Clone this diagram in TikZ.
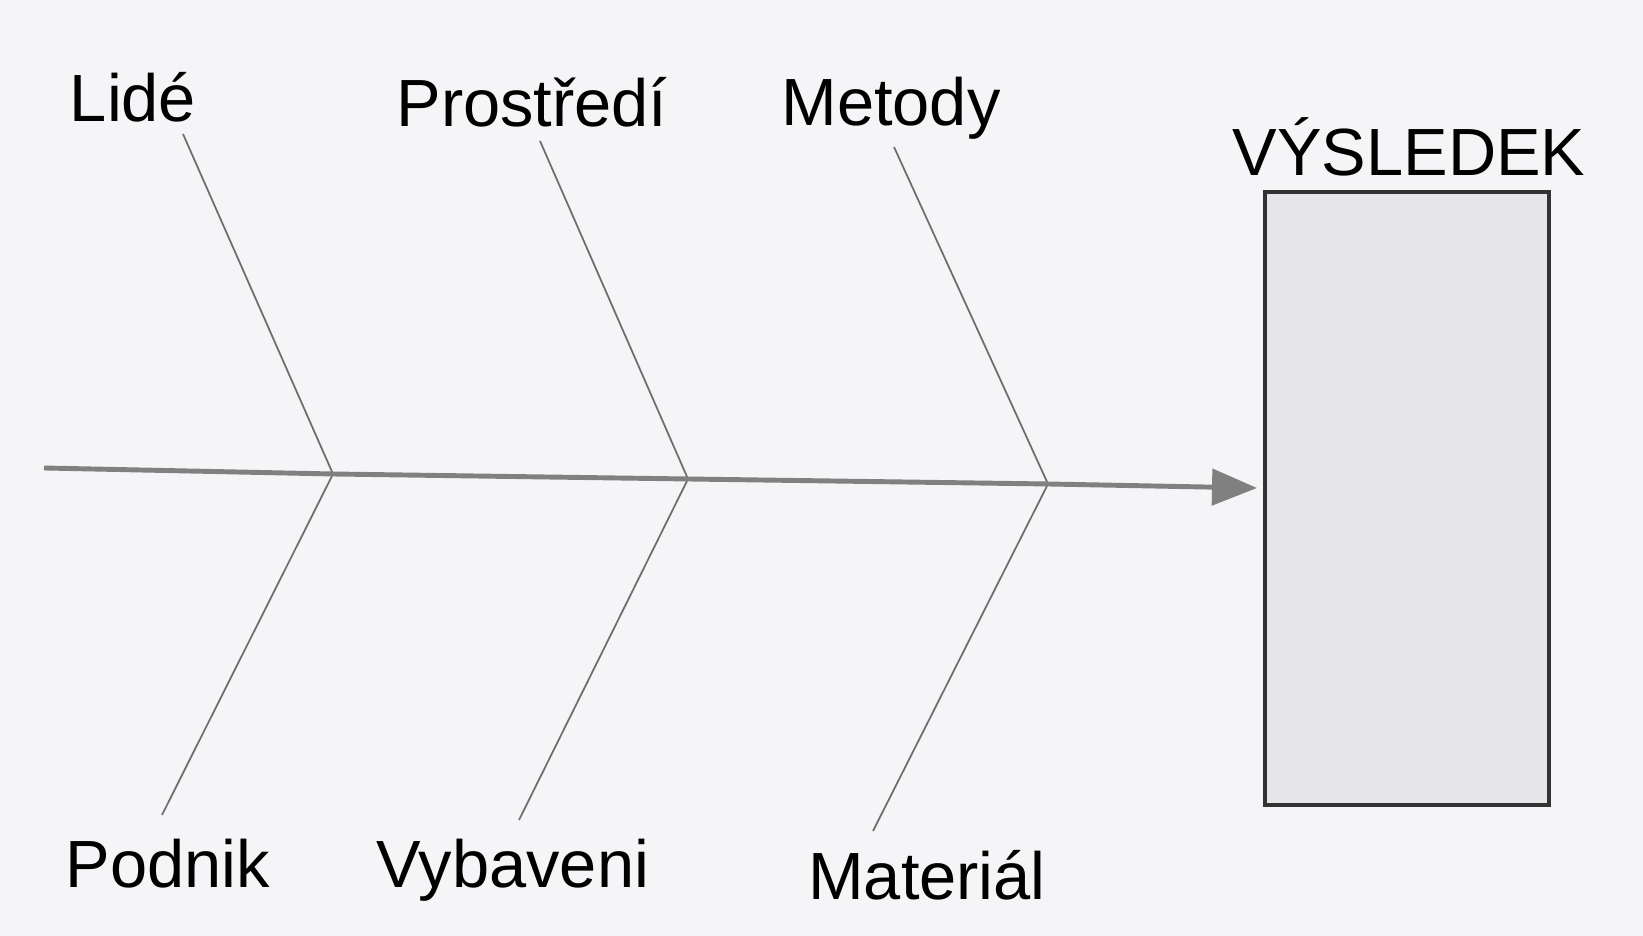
\documentclass[tikz,border=0pt]{standalone}
\usepackage{fontspec}
\setmainfont{Liberation Sans}
\usetikzlibrary{arrows.meta,positioning}
\definecolor{paper}{RGB}{245,245,247}
\definecolor{boxfill}{RGB}{230,230,234}
\definecolor{boneline}{RGB}{110,110,110}

\begin{document}
\begin{tikzpicture}[>=Latex, every node/.style={align=center},
    lbl/.style={font=\fontsize{19}{22}\selectfont, inner sep=0pt},
    bone/.style={boneline, line width=0.5pt},
    spine/.style={gray, line width=1.4pt}]
    \fill[paper] (0,0) rectangle (16.43,9.36);
    \useasboundingbox (0,0) rectangle (16.43,9.36);
    % spine points
    \coordinate (s0) at (0.44,4.68);
    \coordinate (j1) at (3.33,4.62);
    \coordinate (j2) at (6.88,4.57);
    \coordinate (j3) at (10.48,4.52);
    \coordinate (tip) at (12.57,4.48);
    % bone ends
    \coordinate (t1) at (1.83,8.02);
    \coordinate (t2) at (5.40,7.95);
    \coordinate (t3) at (8.94,7.89);
    \coordinate (b1) at (1.62,1.21);
    \coordinate (b2) at (5.19,1.16);
    \coordinate (b3) at (8.73,1.05);
    \node[lbl] (lide) at (1.33,8.39) {Lidé};
    \node[lbl] (prostredi) at (5.32,8.34) {Prostředí};
    \node[lbl] (metody) at (8.91,8.28) {Metody};
    \node[lbl] (podnik) at (1.68,0.72) {Podnik};
    \node[lbl] (vybaveni) at (5.13,0.66) {Vybaveni};
    \node[lbl] (material) at (9.27,0.61) {Materiál};
    \node[draw=black!80, line width=0.9pt, fill=boxfill, minimum width=2.84cm,
      minimum height=6.13cm, inner sep=0pt] (vysledek) at (14.07,4.375) {};
    \node[lbl] (vyslabel) at (14.09,7.89) {VÝSLEDEK};
    \draw[bone] (t1) -- (j1) -- (b1);
    \draw[bone] (t2) -- (j2) -- (b2);
    \draw[bone] (t3) -- (j3) -- (b3);
    \draw[spine,-{Triangle[length=0.45cm,width=0.36cm]}] (s0) -- (j1) -- (j2) -- (j3) -- (tip);
\end{tikzpicture}
\end{document}
